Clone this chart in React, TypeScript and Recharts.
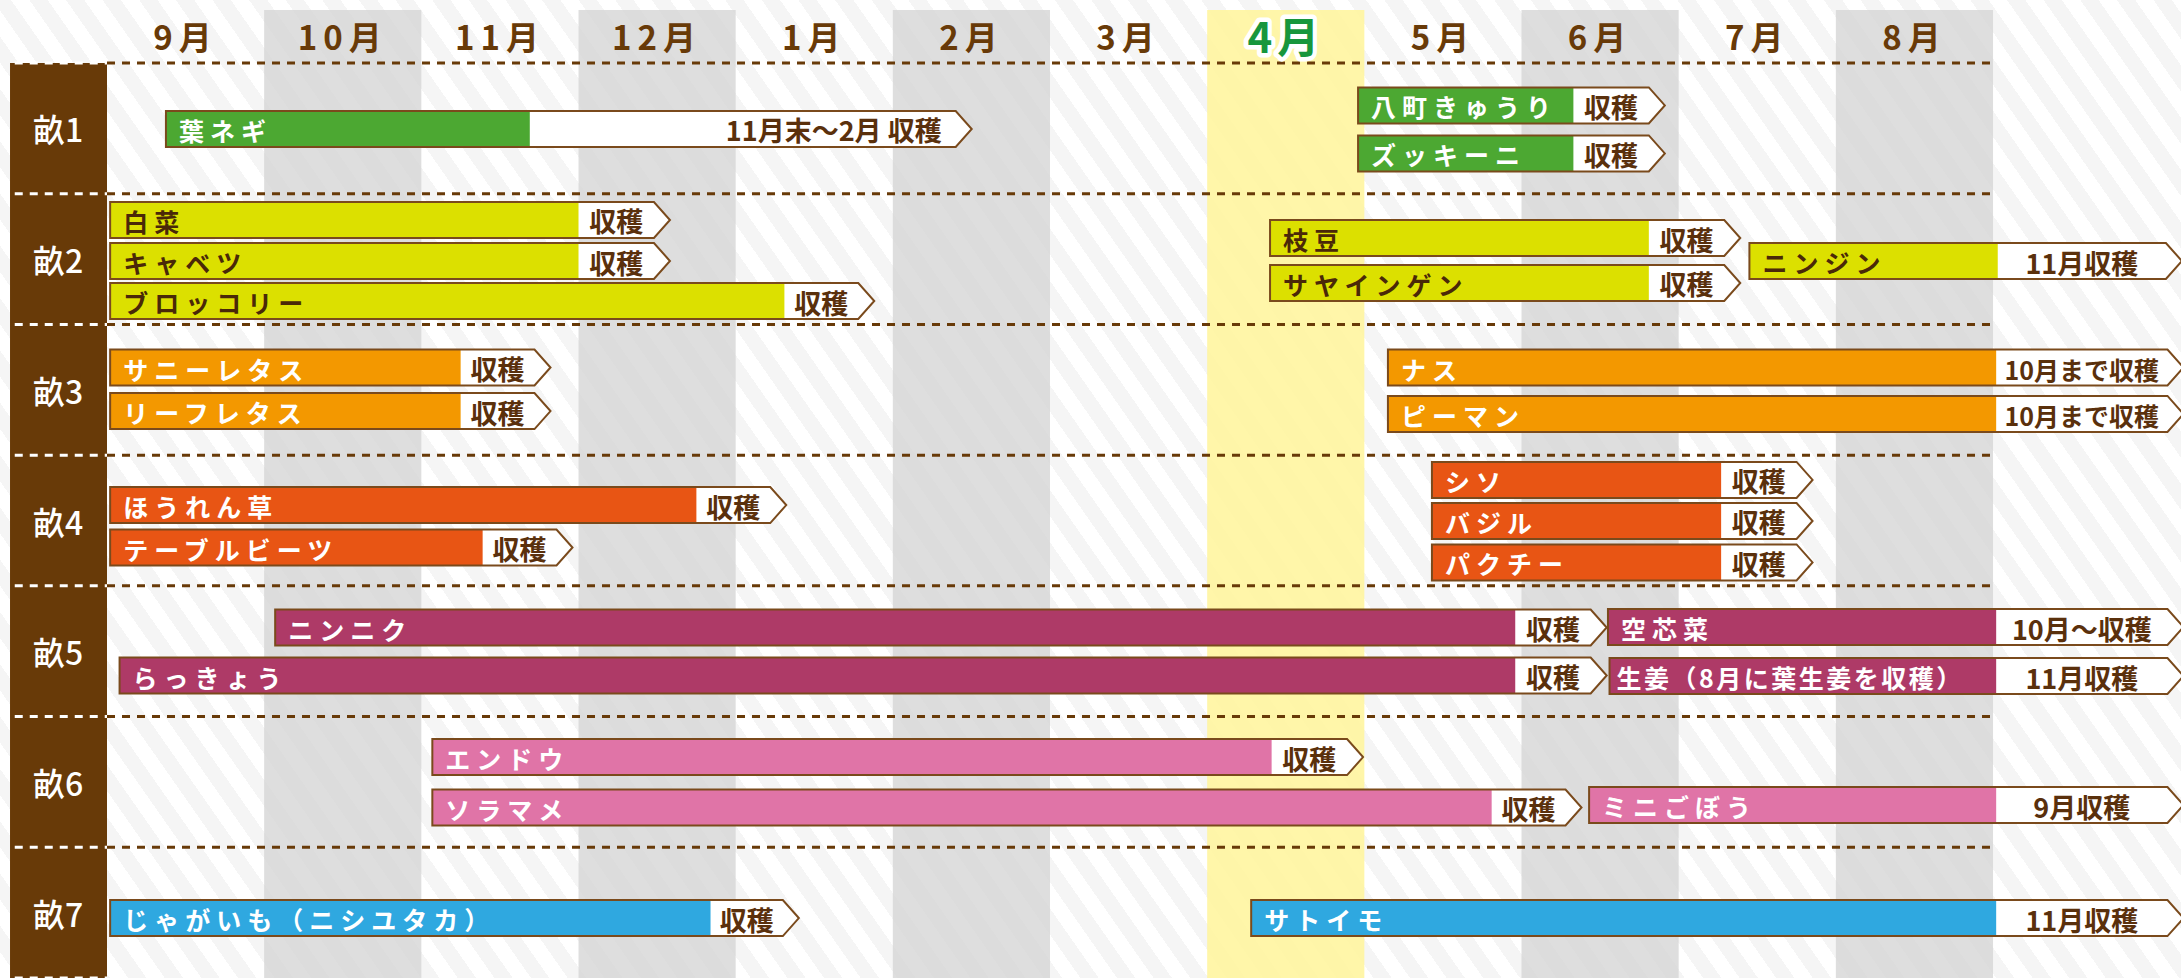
import React from "react";
import { ComposedChart, Bar, XAxis, YAxis, ReferenceArea, ReferenceLine } from "recharts";

// ---- data ----
const monthLabels = ["9月", "10月", "11月", "12月", "1月", "2月", "3月", "4月", "5月", "6月", "7月", "8月"];
const bedLabels = ["畝1", "畝2", "畝3", "畝4", "畝5", "畝6", "畝7"];

const cropNames = [
  "葉ネギ", "八町きゅうり", "ズッキーニ",
  "白菜", "キャベツ", "ブロッコリー", "枝豆", "サヤインゲン", "ニンジン",
  "サニーレタス", "リーフレタス", "ナス", "ピーマン",
  "ほうれん草", "テーブルビーツ", "シソ", "バジル", "パクチー",
  "ニンニク", "らっきょう", "空芯菜", "生姜（8月に葉生姜を収穫）",
  "エンドウ", "ソラマメ", "ミニごぼう",
  "じゃがいも（ニシユタカ）", "サトイモ",
];
const cropBed = [1, 1, 1, 2, 2, 2, 2, 2, 2, 3, 3, 3, 3, 4, 4, 4, 4, 4, 5, 5, 5, 5, 6, 6, 6, 7, 7];
// position of the row inside its bed (0 = top, 1 = bottom)
const cropLane = [
  0.505, 0.325, 0.692,
  0.201, 0.515, 0.821, 0.339, 0.683, 0.515,
  0.33, 0.663, 0.33, 0.685,
  0.382, 0.707, 0.19, 0.504, 0.821,
  0.319, 0.686, 0.315, 0.69,
  0.31, 0.696, 0.677,
  0.542, 0.542,
];
// months counted from the start of September
const growStart = [
  0.375, 7.96, 7.96,
  0.02, 0.02, 0.02, 7.4, 7.4, 10.45,
  0.02, 0.02, 8.15, 8.15,
  0.02, 0.02, 8.43, 8.43, 8.43,
  1.07, 0.08, 9.55, 9.56,
  2.07, 2.07, 9.43,
  0.02, 7.28,
];
const growEnd = [
  2.69, 9.33, 9.33,
  3.0, 3.0, 4.31, 9.81, 9.81, 12.03,
  2.25, 2.25, 12.02, 12.02,
  3.75, 2.39, 10.27, 10.27, 10.27,
  8.96, 8.96, 12.02, 12.02,
  7.41, 8.81, 12.02,
  3.84, 12.02,
];
const harvestEnd = [
  5.4, 9.81, 9.81,
  3.48, 3.48, 4.78, 10.29, 10.29, 13.1,
  2.72, 2.72, 13.11, 13.11,
  4.22, 2.86, 10.75, 10.75, 10.75,
  9.44, 9.44, 13.11, 13.11,
  7.89, 9.28, 13.11,
  4.3, 13.11,
];
const harvestText = [
  "11月末～2月 収穫", "収穫", "収穫",
  "収穫", "収穫", "収穫", "収穫", "収穫", "11月収穫",
  "収穫", "収穫", "10月まで収穫", "10月まで収穫",
  "収穫", "収穫", "収穫", "収穫", "収穫",
  "収穫", "収穫", "10月～収穫", "11月収穫",
  "収穫", "収穫", "9月収穫",
  "収穫", "11月収穫",
];

// ---- styles / layout ----
const W = 2181;
const H = 978;
const X_MAX = 13.196;
const BROWN_X = -0.617;
const COLUMN_TOP = -0.406;
const BAR_H = 36;
const BROWN = "#683a08";
const TEXT_BROWN = "#5a300c";
const FONT = "'Noto Sans CJK JP', 'Noto Sans', sans-serif";
const bedColors = ["#4ca832", "#dce000", "#f39800", "#e85514", "#ae3a67", "#e074a7", "#2fa8e0"];
const bedTextColors = ["#ffffff", "#4a2808", "#ffffff", "#ffffff", "#ffffff", "#ffffff", "#ffffff"];
const HIGHLIGHT_MONTH = 7;

const data = cropNames.map((name, i) => ({
  name,
  bed: cropBed[i],
  row: cropBed[i] - 1 + cropLane[i],
  start: growStart[i],
  grow: growEnd[i],
  end: harvestEnd[i],
  harvest: harvestText[i],
}));

const monthTicks = monthLabels.map((_, i) => i + 0.5);
const bedTicks = bedLabels.map((_, i) => i + 0.5);
const separators = [0, 1, 2, 3, 4, 5, 6];

const CropBar = (props: any) => {
  const { x, y, width, height, payload } = props;
  if (payload == null || x == null || width == null || y == null) return null;
  const left = Math.min(x, x + width);
  const w = Math.abs(width);
  const right = left + w;
  const splitX = left + (w * (payload.grow - payload.start)) / (payload.end - payload.start);
  const tip = 16;
  const mid = y + (height || 0) / 2;
  const top = mid - BAR_H / 2;
  const bottom = mid + BAR_H / 2;
  const outline = `M${left},${top} H${right} L${right + tip},${mid} L${right},${bottom} H${left} Z`;
  const colorW = splitX - left;
  const nameLen = Array.from(payload.name as string).length;
  const tight = nameLen * 30 + 20 > colorW;
  const whiteW = right - splitX;
  const wide = whiteW > 250;
  const harvestLen = Array.from(payload.harvest as string).length;
  return (
    <g>
      <path d={outline} fill="#ffffff" />
      <rect x={left} y={top} width={colorW} height={BAR_H} fill={bedColors[payload.bed - 1]} />
      <path d={outline} fill="none" stroke="#7a4a1c" strokeWidth={2} />
      <text
        x={left + (tight ? 7 : 13)}
        y={mid + 1}
        dominantBaseline="central"
        fontFamily={FONT}
        fontWeight={700}
        fontSize={25}
        letterSpacing={tight ? 2.5 : 6}
        fill={bedTextColors[payload.bed - 1]}
      >
        {payload.name}
      </text>
      <text
        x={wide ? right - 14 : (splitX + right) / 2}
        y={mid + 1}
        dominantBaseline="central"
        textAnchor={wide ? "end" : "middle"}
        fontFamily={FONT}
        fontWeight={700}
        fontSize={!wide && harvestLen >= 7 ? 25 : 27}
        fill={TEXT_BROWN}
      >
        {payload.harvest}
      </text>
    </g>
  );
};

const MonthTick = (props: any) => {
  const { x, payload } = props;
  const idx = Math.floor(payload.value);
  const hi = idx === HIGHLIGHT_MONTH;
  return (
    <text
      x={x}
      y={hi ? 34 : 36}
      textAnchor="middle"
      dominantBaseline="central"
      fontFamily={FONT}
      fontWeight={700}
      fontSize={hi ? 42 : 33}
      fill={hi ? "#17963c" : BROWN}
      stroke={hi ? "#ffffff" : "none"}
      strokeWidth={hi ? 9 : 0}
      strokeLinejoin="round"
      paintOrder="stroke"
      letterSpacing={hi ? 5 : 6}
    >
      {monthLabels[idx]}
    </text>
  );
};

const BedTick = (props: any) => {
  const { y, payload } = props;
  const idx = Math.floor(payload.value);
  return (
    <text
      x={58}
      y={y}
      textAnchor="middle"
      dominantBaseline="central"
      fontFamily={FONT}
      fontWeight={500}
      fontSize={32}
      fill="#ffffff"
    >
      {bedLabels[idx]}
    </text>
  );
};

export default function App() {
  return (
    <div
      style={{
        position: "absolute",
        left: 0,
        top: 0,
        width: W,
        height: H,
        overflow: "hidden",
        background:
          "repeating-linear-gradient(55deg, #ffffff 0px, #ffffff 15px, #f5f5f5 15px, #f5f5f5 30px)",
      }}
    >
      <ComposedChart
        width={W}
        height={H}
        data={data}
        layout="vertical"
        margin={{ top: 0, right: 0, bottom: 0, left: 10 }}
      >
        <XAxis
          type="number"
          orientation="top"
          domain={[0, X_MAX]}
          allowDataOverflow
          ticks={monthTicks}
          interval={0}
          height={63}
          axisLine={false}
          tickLine={false}
          tick={<MonthTick />}
        />
        <YAxis
          type="number"
          dataKey="row"
          domain={[0, 7]}
          allowDataOverflow
          ticks={bedTicks}
          interval={0}
          width={97}
          axisLine={false}
          tickLine={false}
          tick={<BedTick />}
        />
        {monthLabels.map((m, i) => (
          <ReferenceArea
            key={"col" + m}
            x1={i}
            x2={i + 1}
            y1={COLUMN_TOP}
            y2={7}
            ifOverflow="visible"
            fill={i === HIGHLIGHT_MONTH ? "#fff59a" : i % 2 === 1 ? "#d2d2d2" : "none"}
            fillOpacity={i === HIGHLIGHT_MONTH ? 0.85 : i % 2 === 1 ? 0.74 : 0}
            stroke="none"
          />
        ))}
        <ReferenceArea x1={BROWN_X} x2={0} y1={0} y2={7} ifOverflow="visible" fill={BROWN} fillOpacity={1} stroke="none" />
        {separators.map((k) => (
          <ReferenceLine
            key={"sep" + k}
            segment={[
              { x: 0, y: k },
              { x: 12, y: k },
            ]}
            ifOverflow="visible"
            stroke={BROWN}
            strokeWidth={3}
            strokeDasharray="8 7"
          />
        ))}
        {[...separators, 7].map((k) => (
          <ReferenceLine
            key={"wsep" + k}
            segment={[
              { x: BROWN_X + 0.03, y: k },
              { x: 0, y: k },
            ]}
            ifOverflow="visible"
            stroke="#ffffff"
            strokeWidth={3}
            strokeDasharray="8 7"
          />
        ))}
        <Bar dataKey={(d: any) => [d.start, d.end]} barSize={BAR_H} shape={<CropBar />} isAnimationActive={false} />
      </ComposedChart>
    </div>
  );
}
